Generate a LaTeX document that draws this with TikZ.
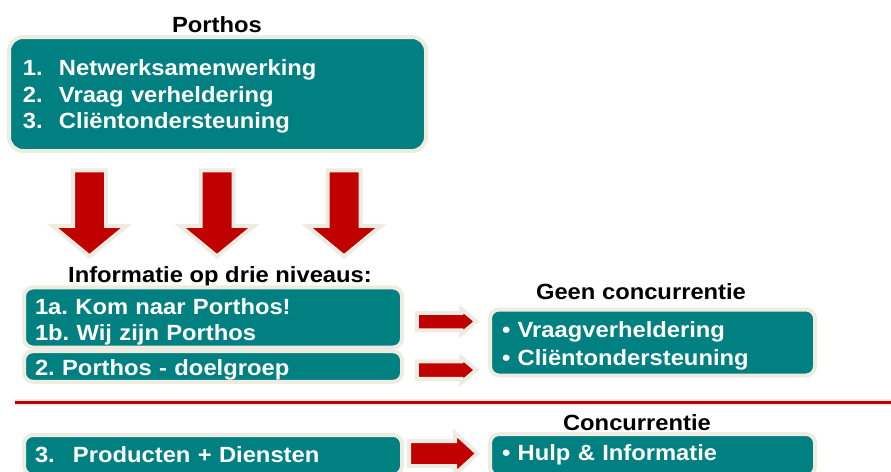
\documentclass[tikz,border=0pt]{standalone}
\usepackage{fontspec}
\setmainfont[FakeStretch=1.08]{Liberation Sans}
\usepackage{tikz}
\usetikzlibrary{positioning, shapes, shapes.arrows}

\definecolor{porthosteal}{RGB}{0,128,128}
\definecolor{boxrim}{RGB}{238,236,225}
\definecolor{arrowred}{RGB}{192,0,0}

\frenchspacing

\begin{document}
\begin{tikzpicture}[
        x=1pt, y=-1pt,
        box/.style={rectangle, draw=boxrim, line width=4pt, fill=porthosteal, rounded corners=9pt, text=white, align=left, inner ysep=2pt, font=\bfseries\fontsize{22}{26.5}\selectfont},
        lowered/.style={execute at begin node={\rule{0pt}{#1}}},
        title/.style={text=black, inner sep=0pt, font=\bfseries\fontsize{22}{26.5}\selectfont},
        downarrow/.style={single arrow, draw=boxrim, line width=4pt, fill=arrowred, shape border rotate=270, minimum height=86pt, inner sep=14.5pt, single arrow head extend=20.5pt, single arrow tip angle=101, single arrow head indent=0pt},
        rightarrow/.style={single arrow, draw=boxrim, line width=4pt, fill=arrowred, minimum height=59.5pt, inner sep=6.75pt, single arrow head extend=3.75pt, single arrow tip angle=80, single arrow head indent=0pt},
        bigarrow/.style={rightarrow, minimum height=68.5pt, inner sep=10.5pt, single arrow head extend=8pt, single arrow tip angle=85},
        divider/.style={draw=boxrim, line width=2pt, double=arrowred, double distance=3pt}
    ]

    \useasboundingbox (0,0) rectangle (891,471);
    \clip (0,0) rectangle (891,471);

    \node[title] (porthos) at (217,25) {Porthos};
    \node[box, lowered=21pt, rounded corners=14pt, text width=389pt, inner xsep=14pt, minimum height=114pt] (tasks) at (217.5,94) {
        \makebox[36pt][l]{1.}Netwerksamenwerking\\
        \makebox[36pt][l]{2.}Vraag verheldering\\
        \makebox[36pt][l]{3.}Cliëntondersteuning
    };

    \node[downarrow, anchor=tip] (down1) at (89.5,259) {};
    \node[downarrow, anchor=tip] (down2) at (217,259) {};
    \node[downarrow, anchor=tip] (down3) at (344,259) {};

    \node[title] (levels) at (220,277) {Informatie op drie niveaus:};
    \node[box, lowered=25pt, text width=356pt, inner xsep=11pt, minimum height=58pt] (level1) at (213,317.5) {
        1a. Kom naar Porthos!\\
        1b. Wij zijn Porthos
    };
    \node[box, lowered=22pt, text width=356pt, inner xsep=11pt, minimum height=30pt] (level2) at (213,366.5) {2. Porthos - doelgroep};

    \node[title] (nocompetition) at (641,292) {Geen concurrentie};
    \node[box, lowered=22pt, text width=301pt, inner xsep=12pt, minimum height=66pt, font=\bfseries\fontsize{22}{28}\selectfont] (support) at (652.5,342.5) {
        • Vraagverheldering\\
        • Cliëntondersteuning
    };

    \node[rightarrow, anchor=tip] (right1) at (479.5,321.5) {};
    \node[rightarrow, anchor=tip] (right2) at (479.5,370) {};

    \coordinate (lineL) at (15,402);
    \coordinate (lineR) at (891,402);
    \draw[divider] (lineL) -- (lineR);

    \node[title] (competition) at (637,423) {Concurrentie};
    \node[box, text width=356pt, inner xsep=11pt, minimum height=40pt] (level3) at (213,455) {\makebox[38pt][l]{3.}Producten + Diensten};
    \node[box, text width=301pt, inner xsep=12pt, minimum height=42pt] (help) at (652.5,455) {• Hulp \& Informatie};

    \node[bigarrow, anchor=tip] (right3) at (480.5,453.5) {};

\end{tikzpicture}
\end{document}
